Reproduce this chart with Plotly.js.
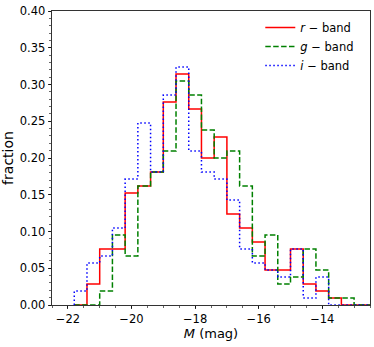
<!DOCTYPE html>
<html>
<head>
<meta charset="utf-8">
<script src="https://cdn.plot.ly/plotly-3.0.1.min.js"></script>
<style>
  html, body { margin: 0; padding: 0; background: #fff; }
  #chart { width: 374px; height: 347px; }
</style>
</head>
<body>
<div id="chart"></div>
<script>
// bin edges of the histograms (mag)
var binEdges = [-21.8, -21.4, -21.0, -20.6, -20.2, -19.8, -19.4, -19.0, -18.6, -18.2,
                -17.8, -17.4, -17.0, -16.6, -16.2, -15.8, -15.4, -15.0, -14.6, -14.2,
                -13.8, -13.4, -13.0, -12.6, -12.2]

// fraction per bin
var rBand = [0, 0.0286, 0.0762, 0.0762, 0.1524, 0.1619, 0.181, 0.2762, 0.3143, 0.2667,
             0.2, 0.2286, 0.1238, 0.1048, 0.0857, 0.0476, 0.0476, 0.0762, 0.0286, 0.019,
             0.0095, 0, 0, 0]
var gBand = [0, 0, 0.019, 0.0952, 0.0667, 0.1619, 0.181, 0.2095, 0.3048, 0.2857,
             0.2381, 0.2, 0.2095, 0.1619, 0.0667, 0.0952, 0.0286, 0.0381, 0.0762, 0.0476,
             0.0095, 0.0095, 0, 0]
var iBand = [0.019, 0.0571, 0.0667, 0.1048, 0.1714, 0.2476, 0.181, 0.2857, 0.3238, 0.2095,
             0.181, 0.1714, 0.1429, 0.0762, 0.0571, 0.0476, 0.0381, 0.0762, 0.0095, 0.0381,
             0, 0, 0, 0]

var xTicks = [-22, -20, -18, -16, -14]
var yTicks = [0, 0.05, 0.10, 0.15, 0.20, 0.25, 0.30, 0.35, 0.40]

var font = 'DejaVu Sans, Liberation Sans, sans-serif'

// outline of a step histogram (like histtype='step')
function stepTrace(vals, name, color, dash){
	var xs = [binEdges[0]]
	var ys = [0]
	for (var k = 0; k < vals.length; k++){
		xs.push(binEdges[k])
		ys.push(vals[k])
	}
	xs.push(binEdges[vals.length])
	ys.push(0)
	return {
		x: xs, y: ys,
		type: 'scatter', mode: 'lines',
		line: {shape: 'hv', color: color, width: 1.5, dash: dash},
		name: name,
		hoverinfo: 'skip'
	}
}

var data = [
	stepTrace(rBand, '<i>r</i> − band', '#ff0000', 'solid'),
	stepTrace(gBand, '<i>g</i> − band', '#008000', '5.5px,2.4px'),
	stepTrace(iBand, '<i>i</i> − band', '#0000ff', '1.5px,2.5px')
]

var axisCommon = {
	showgrid: false,
	zeroline: false,
	showline: true,
	mirror: true,
	linecolor: '#000',
	linewidth: 0.8,
	ticks: 'outside',
	ticklen: 3.5,
	tickwidth: 0.8,
	tickcolor: '#000',
	tickfont: {family: font, size: 11.5, color: '#000'}
}

var layout = {
	width: 374,
	height: 347,
	margin: {l: 52, r: 4, t: 11, b: 42},
	paper_bgcolor: '#fff',
	plot_bgcolor: '#fff',
	font: {family: font, color: '#000'},
	xaxis: Object.assign({}, axisCommon, {
		range: [-22.5, -12.5],
		tickmode: 'array',
		tickvals: xTicks,
		ticktext: xTicks.map(function(v){ return '−' + Math.abs(v) }),
		minor: {dtick: 0.5, tick0: 0, ticks: 'outside', ticklen: 2, tickwidth: 0.6, tickcolor: '#000', showgrid: false},
		title: {text: '<i>M</i> (mag)', font: {family: font, size: 13, color: '#000'}, standoff: 2}
	}),
	yaxis: Object.assign({}, axisCommon, {
		range: [0, 0.40],
		tickmode: 'array',
		tickvals: yTicks,
		ticktext: yTicks.map(function(v){ return v.toFixed(2) }),
		minor: {dtick: 0.01, tick0: 0, ticks: 'outside', ticklen: 2, tickwidth: 0.6, tickcolor: '#000', showgrid: false},
		title: {text: 'fraction', font: {family: font, size: 14, color: '#000'}, standoff: 6}
	}),
	showlegend: true,
	legend: {
		x: 0.655, y: 0.993, xanchor: 'left', yanchor: 'top',
		bgcolor: 'rgba(0,0,0,0)',
		borderwidth: 0,
		font: {family: font, size: 11.5, color: '#000'},
		tracegroupgap: 0
	}
}

Plotly.newPlot('chart', data, layout, {displayModeBar: false, staticPlot: true})
</script>
</body>
</html>
